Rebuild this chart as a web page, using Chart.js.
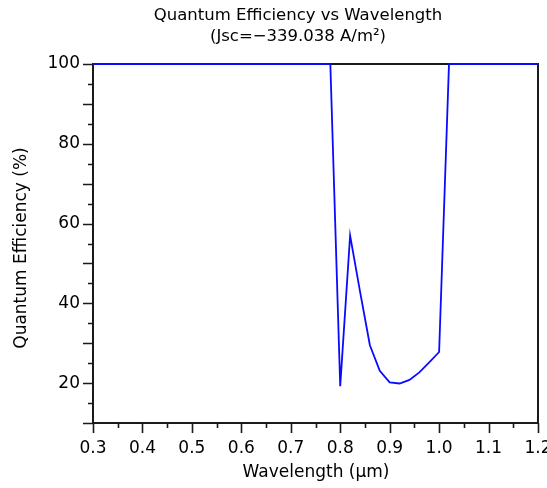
<!DOCTYPE html>
<html>
<head>
<meta charset="utf-8">
<script src="https://cdn.jsdelivr.net/npm/chart.js@4/dist/chart.umd.min.js"></script>
<style>
html,body{margin:0;padding:0;background:#fff;}
#wrap{width:547px;height:488px;position:relative;}
</style>
</head>
<body>
<div id="wrap"><canvas id="c" width="547" height="488"></canvas></div>
<script>
const titleLines = ['Quantum Efficiency vs Wavelength', '(Jsc=\u2212339.038 A/m\u00B2)'];
const xTitle = 'Wavelength (\u03BCm)';
const yTitle = 'Quantum Efficiency (%)';
const wavelength = [0.30, 0.40, 0.50, 0.60, 0.70, 0.78, 0.80, 0.82, 0.84, 0.86, 0.88, 0.90, 0.92, 0.94, 0.96, 0.98, 1.00, 1.02, 1.10, 1.20];
const efficiency = [100, 100, 100, 100, 100, 100, 19.2, 57, 43, 29.5, 23.1, 20.2, 19.9, 20.8, 22.7, 25.2, 27.8, 100, 100, 100];
const xMin = 0.3, xMax = 1.2;
const yMin = 10, yMax = 100;

const FONT = 'DejaVu Sans';

const framePlugin = {
  id: 'frame',
  beforeDatasetsDraw(chart) {
    const {ctx, chartArea: a, scales: {x, y}} = chart;
    ctx.save();
    ctx.strokeStyle = '#1a1a1a';
    ctx.lineWidth = 2;
    ctx.strokeRect(a.left, a.top, a.right - a.left, a.bottom - a.top);
    ctx.lineWidth = 1.6;
    ctx.beginPath();
    for (let i = 0; i <= 18; i++) {
      const v = xMin + i * 0.05;
      const px = Math.round(x.getPixelForValue(v)) + 0.5;
      const len = i % 2 === 0 ? 10 : 5;
      ctx.moveTo(px, a.bottom);
      ctx.lineTo(px, a.bottom + len);
    }
    for (let i = 0; i <= 18; i++) {
      const v = yMin + i * 5;
      const py = Math.round(y.getPixelForValue(v)) + 0.5;
      const len = (v % 10 === 0) ? 10 : 5;
      ctx.moveTo(a.left, py);
      ctx.lineTo(a.left - len, py);
    }
    ctx.stroke();
    ctx.restore();
  },
  afterDraw(chart) {
    const {ctx} = chart;
    ctx.save();
    ctx.fillStyle = '#000';
    ctx.textAlign = 'center';
    ctx.textBaseline = 'alphabetic';
    ctx.font = '16.5px "' + FONT + '"';
    ctx.fillText(titleLines[0], 298, 20);
    ctx.fillText(titleLines[1], 298, 41);
    ctx.font = '17px "' + FONT + '"';
    ctx.textBaseline = 'middle';
    ctx.fillText(xTitle, 316, 473);
    ctx.translate(22, 248);
    ctx.rotate(-Math.PI / 2);
    ctx.fillText(yTitle, 0, 0);
    ctx.restore();
  }
};

new Chart(document.getElementById('c'), {
  type: 'line',
  data: {
    labels: wavelength,
    datasets: [{
      data: wavelength.map((w, i) => ({x: w, y: efficiency[i]})),
      borderColor: '#0a0aff',
      borderWidth: 1.8,
      pointRadius: 0,
      fill: false,
      tension: 0,
      clip: 3
    }]
  },
  options: {
    responsive: false,
    animation: false,
    devicePixelRatio: 1,
    layout: {padding: {top: 64, right: 9, left: 0, bottom: 0}},
    plugins: {legend: {display: false}, title: {display: false}, tooltip: {enabled: false}},
    scales: {
      x: {
        type: 'linear',
        min: xMin, max: xMax,
        grid: {display: false},
        border: {display: false},
        ticks: {
          stepSize: 0.1,
          padding: 7,
          color: '#000',
          font: {family: FONT, size: 17},
          maxRotation: 0,
          autoSkip: false,
          callback: v => Number(v).toFixed(1)
        },
        afterFit: s => { s.height = 65; s.paddingLeft = 0; s.paddingRight = 0; }
      },
      y: {
        type: 'linear',
        min: yMin, max: yMax,
        grid: {display: false},
        border: {display: false},
        ticks: {
          stepSize: 10,
          padding: 5,
          color: '#000',
          font: {family: FONT, size: 17},
          autoSkip: false,
          callback: v => (Math.round(v) % 20 === 0 ? String(Math.round(v)) : '')
        },
        afterFit: s => { s.width = 93; s.paddingTop = 0; s.paddingBottom = 0; }
      }
    }
  },
  plugins: [framePlugin]
});
</script>
</body>
</html>
